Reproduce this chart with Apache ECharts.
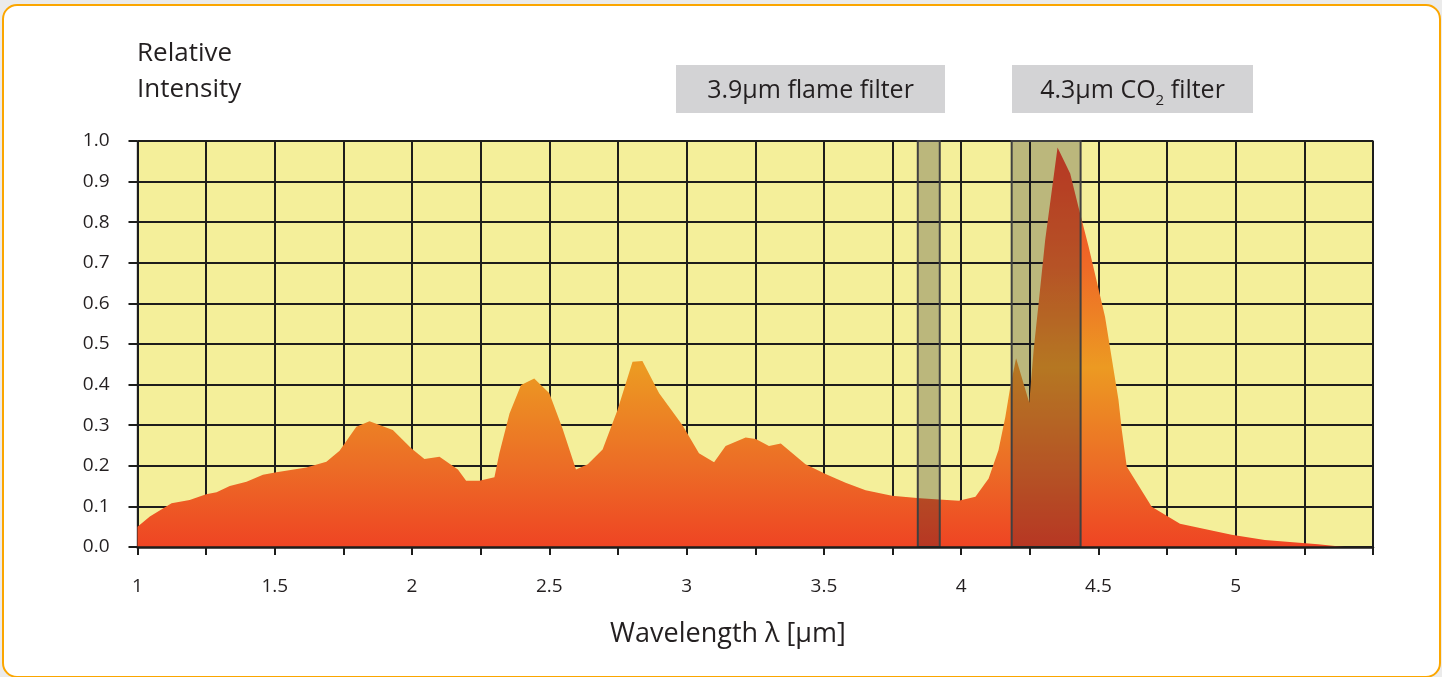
<!DOCTYPE html>
<html>
<head>
<meta charset="utf-8">
<title>Flame emission spectrum</title>
<script src="https://cdn.jsdelivr.net/npm/echarts@6/dist/echarts.min.js"></script>
<style>
  html, body { margin: 0; padding: 0; background: #ebebeb; }
  #frame {
    position: absolute; left: 2px; top: 4px; width: 1439px; height: 674px;
    box-sizing: border-box; border: 2px solid #fba600; border-radius: 15px;
    background: #ffffff;
  }
  #chart { position: absolute; left: 0; top: 0; width: 1442px; height: 677px; }
</style>
</head>
<body>
<div id="frame"></div>
<div id="chart"></div>
<script>
// Emission spectrum of a hydrocarbon flame: wavelength (µm) vs relative intensity
const wavelength = [
  1.0, 1.045, 1.124, 1.19, 1.25, 1.288, 1.336, 1.397, 1.457, 1.506,
  1.615, 1.688, 1.736, 1.797, 1.845, 1.93, 1.997, 2.045, 2.1, 2.167,
  2.197, 2.245, 2.3, 2.318, 2.355, 2.397, 2.445, 2.5, 2.548, 2.597,
  2.64, 2.694, 2.748, 2.803, 2.839, 2.9, 2.985, 3.045, 3.1, 3.142,
  3.215, 3.252, 3.3, 3.343, 3.433, 3.506, 3.579, 3.652, 3.748, 3.85,
  3.92, 3.991, 4.052, 4.1, 4.136, 4.161, 4.179, 4.2, 4.248, 4.264,
  4.282, 4.306, 4.351, 4.397, 4.427, 4.464, 4.524, 4.573, 4.585, 4.603,
  4.694, 4.797, 4.985, 5.106, 5.3, 5.397
];
const intensity = [
  0.05, 0.075, 0.108, 0.116, 0.13, 0.135, 0.15, 0.161, 0.178, 0.184,
  0.196, 0.21, 0.237, 0.296, 0.31, 0.288, 0.243, 0.217, 0.222, 0.191,
  0.163, 0.163, 0.172, 0.231, 0.329, 0.399, 0.415, 0.379, 0.292, 0.191,
  0.204, 0.24, 0.337, 0.456, 0.458, 0.379, 0.3, 0.231, 0.209, 0.249,
  0.27, 0.266, 0.249, 0.255, 0.204, 0.18, 0.158, 0.14, 0.126, 0.12,
  0.117, 0.114, 0.124, 0.169, 0.239, 0.321, 0.395, 0.465, 0.355, 0.485,
  0.6, 0.756, 0.984, 0.92, 0.838, 0.74, 0.567, 0.362, 0.288, 0.198,
  0.099, 0.057, 0.03, 0.017, 0.007, 0.0
];

// Pass bands of the two detector filters (start, end in µm)
const filterStart = [3.842, 4.184];
const filterEnd = [3.922, 4.435];

// Axis settings
const xMin = 1, xMax = 5.5, xStep = 0.25;
const yMin = 0, yMax = 1, yStep = 0.1;

const FONT = '"Open Sans", "Noto Sans", sans-serif';
const TEXT = '#231f20';
const GRID_LINE = '#1d1d1b';

const spectrum = wavelength.map((w, i) => [w, intensity[i]]);
const filters = filterStart.map((s, i) => [s, filterEnd[i]]);

const chart = echarts.init(document.getElementById('chart'), null, { renderer: 'canvas' });

chart.setOption({
  backgroundColor: 'transparent',
  animation: false,
  textStyle: { fontFamily: FONT },
  grid: {
    left: 137.5, right: 69, top: 141, bottom: 130,
    show: true, backgroundColor: '#f4ef9a',
    borderColor: '#555555', borderWidth: 1.5
  },
  xAxis: [
    {
      // grid lines only
      type: 'value', min: xMin, max: xMax, interval: xStep,
      axisLine: { show: false }, axisTick: { show: false }, axisLabel: { show: false },
      splitLine: { show: true, lineStyle: { color: GRID_LINE, width: 2 } }
    },
    {
      // base line, ticks and labels drawn over the spectrum
      type: 'value', min: xMin, max: xMax, interval: xStep, position: 'bottom', z: 10,
      axisLine: { show: true, onZero: false, lineStyle: { color: GRID_LINE, width: 2.5 } },
      axisTick: { show: true, length: 8, lineStyle: { color: GRID_LINE, width: 2 } },
      splitLine: { show: false },
      axisLabel: {
        margin: 30, fontSize: 19, color: TEXT, fontFamily: FONT,
        formatter: v => {
          const r = Math.round(v * 100) / 100;
          if (Math.abs(r * 2 - Math.round(r * 2)) > 1e-6 || r > 5.01) return '';
          return String(r);
        }
      }
    }
  ],
  yAxis: {
    type: 'value', min: yMin, max: yMax, interval: yStep,
    axisLine: { show: false },
    axisTick: { show: true, length: 9, lineStyle: { color: GRID_LINE, width: 2 } },
    splitLine: { show: true, lineStyle: { color: GRID_LINE, width: 2 } },
    axisLabel: {
      margin: 28, fontSize: 19, color: TEXT, fontFamily: FONT,
      formatter: v => v.toFixed(1)
    }
  },
  series: [
    {
      type: 'line', name: 'Flame spectrum', xAxisIndex: 0, z: 2,
      data: spectrum, showSymbol: false, symbol: 'none', smooth: false,
      lineStyle: { width: 0 },
      areaStyle: {
        opacity: 1,
        color: new echarts.graphic.LinearGradient(0, 0, 0, 1, [
          { offset: 0, color: '#ee4424' },
          { offset: 0.3, color: '#ee6a27' },
          { offset: 0.55, color: '#ec9a22' },
          { offset: 0.8, color: '#ec6c26' },
          { offset: 1, color: '#ef4423' }
        ])
      }
    },
    {
      // filter pass bands as translucent overlays
      type: 'custom', name: 'Filters', xAxisIndex: 0, z: 4,
      data: filters,
      encode: { x: [0, 1] },
      renderItem: (params, api) => {
        const p0 = api.coord([api.value(0), yMax]);
        const p1 = api.coord([api.value(1), yMin]);
        return {
          type: 'rect',
          shape: { x: p0[0], y: p0[1], width: p1[0] - p0[0], height: p1[1] - p0[1] },
          style: { fill: 'rgba(15,15,35,0.25)', stroke: '#404040', lineWidth: 2 }
        };
      }
    }
  ],
  graphic: [
    {
      type: 'text', left: 137, top: 36, z: 20,
      style: {
        text: 'Relative\nIntensity', font: '26px ' + FONT, fill: TEXT, lineHeight: 36
      }
    },
    {
      type: 'text', x: 728, y: 634, z: 20,
      style: {
        text: 'Wavelength λ [µm]', font: '27px ' + FONT, fill: TEXT,
        align: 'center', verticalAlign: 'middle'
      }
    },
    {
      type: 'group', z: 20,
      children: [
        { type: 'rect', shape: { x: 676, y: 65, width: 269, height: 48 }, style: { fill: '#d3d3d5' } },
        {
          type: 'text', x: 810.5, y: 91,
          style: {
            text: '3.9µm flame filter', font: '25px ' + FONT, fill: TEXT,
            align: 'center', verticalAlign: 'middle'
          }
        },
        { type: 'rect', shape: { x: 1012, y: 65, width: 241, height: 48 }, style: { fill: '#d3d3d5' } },
        {
          type: 'text', x: 1132.5, y: 91,
          style: {
            text: '{b|4.3µm CO}{s|2}{b| filter}',
            align: 'center', verticalAlign: 'middle', fill: TEXT,
            rich: {
              b: { fontSize: 25, fontFamily: FONT, color: TEXT, lineHeight: 34 },
              s: { fontSize: 15, fontFamily: FONT, color: TEXT, lineHeight: 15, verticalAlign: 'bottom' }
            }
          }
        }
      ]
    }
  ]
});
</script>
</body>
</html>
